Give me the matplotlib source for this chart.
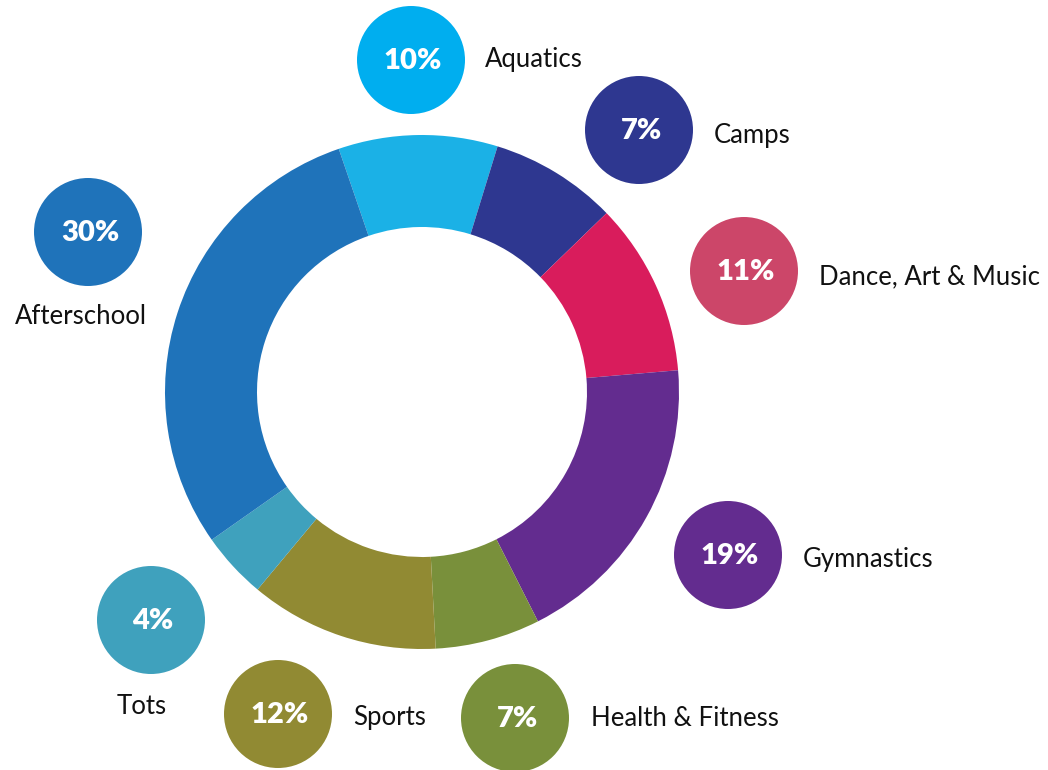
import matplotlib.pyplot as plt
from matplotlib.patches import Circle

categories = ["Aquatics", "Camps", "Dance, Art & Music", "Gymnastics",
              "Health & Fitness", "Sports", "Tots", "Afterschool"]
# printed percentages and the arc sizes as measured off the ring
pct_labels = [10, 7, 11, 19, 7, 12, 4, 30]
arc_sizes = [10.0, 8.0, 10.9, 18.9, 6.6, 11.9, 4.2, 29.5]
ring_colors = ["#1bb1e6", "#2e3790", "#d91c5c", "#632c8f",
               "#79903b", "#918a33", "#3fa1bd", "#1f73ba"]
bubble_colors = ["#00aeef", "#2e3790", "#cc4669", "#632c8f",
                 "#79903b", "#918a33", "#3fa1bd", "#1f73ba"]

W, H = 1048, 770
fig = plt.figure(figsize=(W / 100, H / 100), dpi=100)
ax = fig.add_axes([0, 0, 1, 1])

# donut (pixel-like coordinates, y measured from the bottom)
cx, cy, R = 422, H - 392, 257
ax.pie(arc_sizes, colors=ring_colors, startangle=108.9, counterclock=False,
       radius=R, center=(cx, cy),
       wedgeprops=dict(width=92, linewidth=0))

# bubble + label placement: (bubble x, bubble y, label x, label y, ha)
layout = {
    "Aquatics":           (411, 60, 485, 59, "left"),
    "Camps":              (639, 130, 714, 135, "left"),
    "Dance, Art & Music": (744, 271, 819, 277, "left"),
    "Gymnastics":         (728, 555, 803, 559, "left"),
    "Health & Fitness":   (515, 718, 591, 719, "left"),
    "Sports":             (278, 714, 353, 718, "left"),
    "Tots":               (151, 620, 142, 707, "center"),
    "Afterschool":        (88, 232, 81, 316, "center"),
}

for name, pct, col in zip(categories, pct_labels, bubble_colors):
    bx, by, lx, ly, ha = layout[name]
    ax.add_patch(Circle((bx, H - by), 54, color=col, lw=0))
    ax.text(bx + 2, H - by - 1, f"{pct}%", color="white", fontsize=21,
            fontweight="heavy", fontstyle="normal", family="Lato",
            ha="center", va="center")
    ax.text(lx, H - ly, name, color="#111111", fontsize=18.5,
            family="Lato", ha=ha, va="center")

ax.set_xlim(0, W)
ax.set_ylim(0, H)
ax.set_aspect("equal")
ax.axis("off")

fig.savefig("out.png", dpi=100, facecolor="white")
